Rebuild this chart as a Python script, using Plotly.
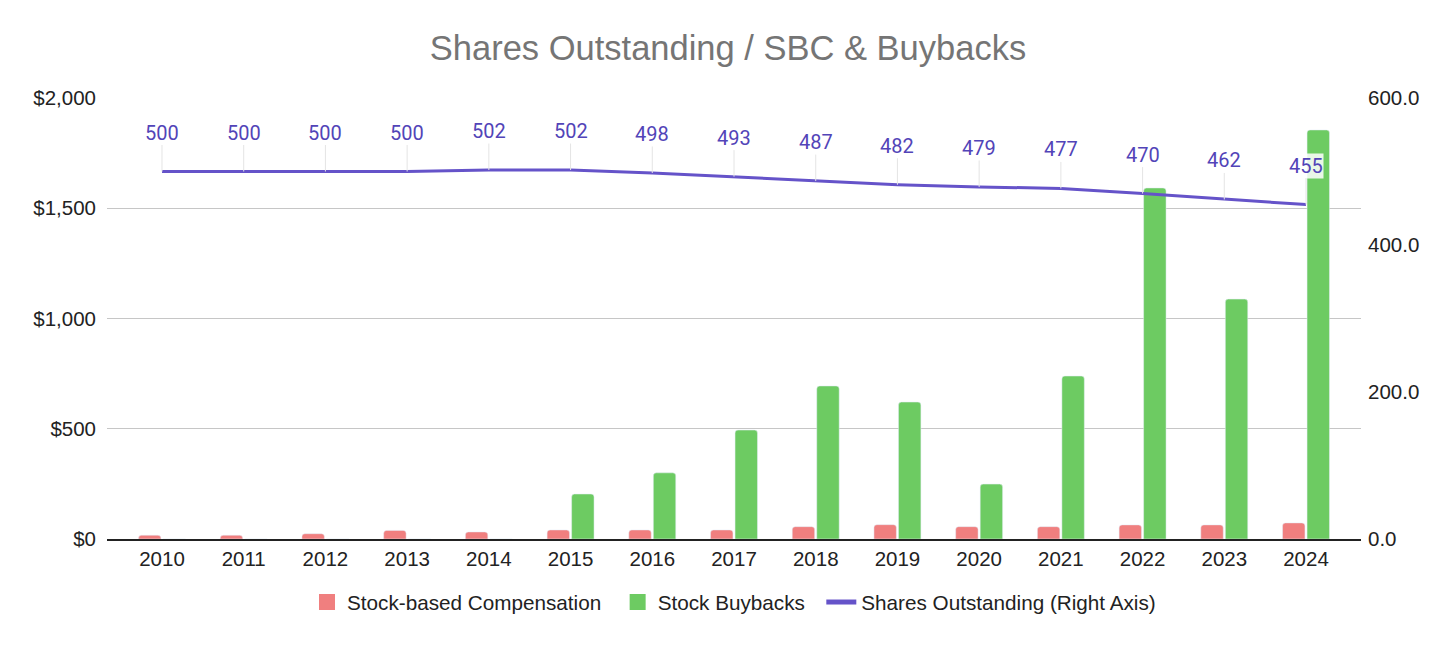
import plotly.graph_objects as go

years = [str(y) for y in range(2010, 2025)]
sbc = [17, 17, 24, 39, 32, 41, 41, 41, 56, 65, 56, 56, 64, 64, 73]
buybacks = [0, 0, 0, 0, 0, 204, 300, 494, 694, 621, 249, 739, 1592, 1088, 1855]
shares = [500, 500, 500, 500, 502, 502, 498, 493, 487, 482, 479, 477, 470, 462, 455]

RED = "#f07f7f"
GREEN = "#6dcb62"
PURPLE = "#6553c9"
LABEL = "#5244b8"
TICKFONT = dict(family="Liberation Sans, Arial, sans-serif", size=20.5, color="#222222")
NB = "\u00a0\u00a0"

fig = go.Figure()
fig.add_trace(go.Bar(x=years, y=sbc, name="Stock-based Compensation",
                     marker=dict(color=RED, cornerradius=3), yaxis="y", showlegend=False))
fig.add_trace(go.Bar(x=years, y=buybacks, name="Stock Buybacks",
                     marker=dict(color=GREEN, cornerradius=3), yaxis="y", showlegend=False))
fig.add_trace(go.Scatter(x=years, y=shares, name="Shares Outstanding (Right Axis)",
                         mode="lines", line=dict(color=PURPLE, width=3), yaxis="y2",
                         showlegend=False))
# legend entries
fig.add_trace(go.Scatter(x=[None], y=[None], mode="markers", name="Stock-based Compensation" + NB,
                         marker=dict(symbol="square", size=20, color=RED)))
fig.add_trace(go.Scatter(x=[None], y=[None], mode="markers", name="Stock Buybacks" + NB,
                         marker=dict(symbol="square", size=20, color=GREEN)))
fig.add_trace(go.Scatter(x=[None], y=[None], mode="lines", name="Shares Outstanding (Right Axis)",
                         line=dict(color=PURPLE, width=5), yaxis="y2"))

annotations = []
for i, (yr, v) in enumerate(zip(years, shares)):
    annotations.append(dict(
        x=i, y=v, xref="x", yref="y2", text=str(v),
        showarrow=True, arrowhead=0, arrowwidth=1, arrowcolor="#e4e4e4",
        ax=0, ay=-39, standoff=0,
        bgcolor="rgba(255,255,255,0.85)" if yr == "2024" else "rgba(0,0,0,0)",
        borderpad=0,
        font=dict(family="Roboto, sans-serif", size=20, color=LABEL),
    ))

fig.update_layout(
    width=1440, height=629,
    margin=dict(l=99, r=87, t=90, b=98),
    paper_bgcolor="white", plot_bgcolor="white",
    title=dict(text="Shares Outstanding / SBC & Buybacks", x=0.5, xanchor="center",
               y=1 - 40 / 629, yanchor="middle",
               font=dict(family="Liberation Sans, Arial, sans-serif", size=34.5, color="#757575")),
    barmode="group", bargap=0.40, bargroupgap=0.085,
    xaxis=dict(type="category", range=[-0.673, 14.673], showgrid=False,
               showline=True, linecolor="#222222", linewidth=2, ticks="",
               tickfont=TICKFONT, fixedrange=True),
    yaxis=dict(range=[0, 2000], dtick=500, tickprefix="$", tickformat=",",
               showgrid=True, gridcolor="#c6c6c6", gridwidth=1, zeroline=False,
               tickfont=TICKFONT, ticks="", ticklabelstandoff=10),
    yaxis2=dict(range=[0, 600], dtick=200, tickformat=".1f", overlaying="y", side="right",
                showgrid=False, zeroline=False, tickfont=TICKFONT, ticks="",
                ticklabelstandoff=6),
    legend=dict(orientation="h", x=0.5, xanchor="center", y=-0.143, yanchor="middle",
                font=dict(family="Liberation Sans, Arial, sans-serif", size=20.7, color="#222222"),
                itemwidth=30, traceorder="normal", itemsizing="trace"),
    annotations=annotations,
)

fig.write_html("out.html")
